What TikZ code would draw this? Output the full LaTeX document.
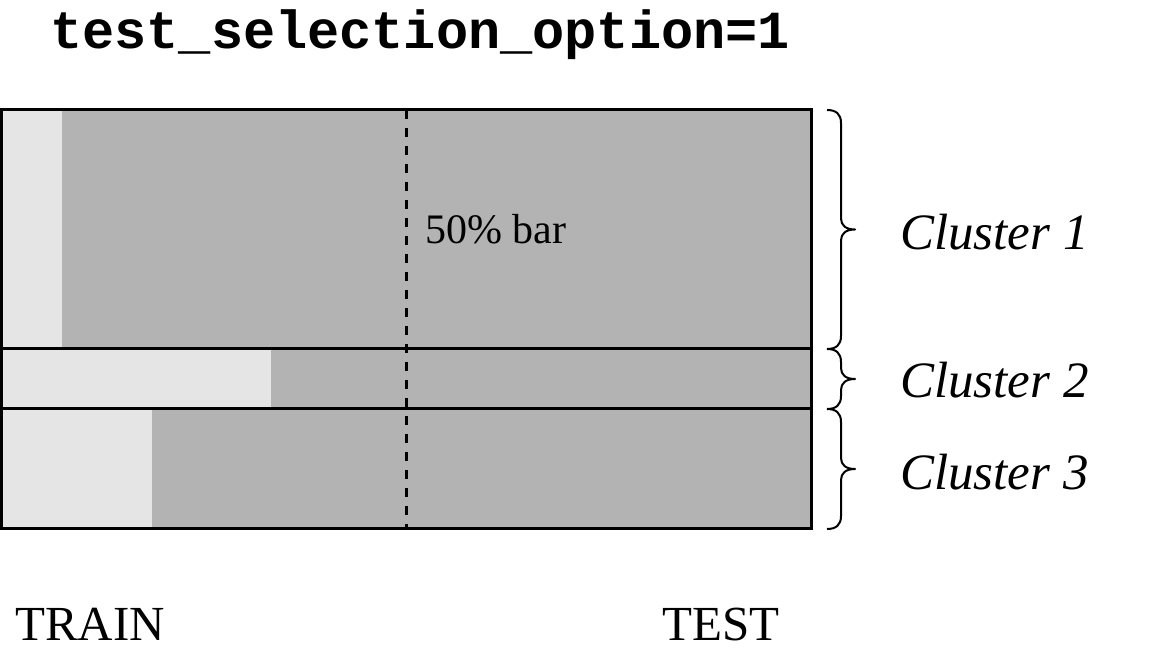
\documentclass[tikz,border=0pt]{standalone}
\usepackage{fontspec}
\setmainfont{Liberation Serif}
\setmonofont{Liberation Mono}
\definecolor{lightg}{HTML}{E5E5E5}
\definecolor{darkg}{HTML}{B3B3B3}
\newcommand\mybrace[3]{% top, mid, bottom (y values)
  \draw[cbrace] (827,#1) .. controls (836,#1) and (841,#1-4) .. (841,#1-13)
    -- (841,#2+11) .. controls (841,#2+4) and (846,#2) .. (855,#2)
    .. controls (846,#2) and (841,#2-4) .. (841,#2-11)
    -- (841,#3+13) .. controls (841,#3+4) and (836,#3) .. (827,#3);}
\begin{document}
\begin{tikzpicture}[x=1pt,y=1pt,
  frame/.style={line width=3pt},
  cbrace/.style={line width=2pt,line join=round},
  clabel/.style={anchor=base west,inner sep=0pt,font=\fontsize{51}{60}\selectfont\itshape},
  blabel/.style={anchor=base west,inner sep=0pt,font=\fontsize{49}{58}\selectfont}]
\useasboundingbox (0,0) rectangle (1149,651);
% fills
\fill[darkg] (1.5,122) rectangle (811,541);
\fill[lightg] (1.5,302) rectangle (62,541);
\fill[lightg] (1.5,242) rectangle (271,302);
\fill[lightg] (1.5,122) rectangle (152,242);
% dashed 50% line
\coordinate (dtop) at (406,541);
\coordinate (dbot) at (406,122);
\draw[line width=3pt,dash pattern=on 9pt off 9pt] (dtop) -- (dbot);
% frame
\draw[frame] (1.5,122) rectangle (811,541);
\draw[frame] (1.5,302) -- (811,302);
\draw[frame] (1.5,242) -- (811,242);
% braces
\mybrace{541}{421.5}{302}
\mybrace{302}{272}{242}
\mybrace{242}{182}{122}
% texts
\node[anchor=base west,inner sep=0pt,font=\fontsize{53.6}{60}\selectfont\ttfamily\bfseries] (title) at (50,602) {test\_selection\_option=1};
\node[anchor=base west,inner sep=0pt,font=\fontsize{42}{50}\selectfont] (bar) at (425,407) {50\% bar};
\node[clabel] (c1) at (900,401) {Cluster 1};
\node[clabel] (c2) at (900,253) {Cluster 2};
\node[clabel] (c3) at (900,161) {Cluster 3};
\node[blabel] (train) at (15,11) {TRAIN};
\node[blabel] (test) at (662,11) {TEST};
\end{tikzpicture}
\end{document}
